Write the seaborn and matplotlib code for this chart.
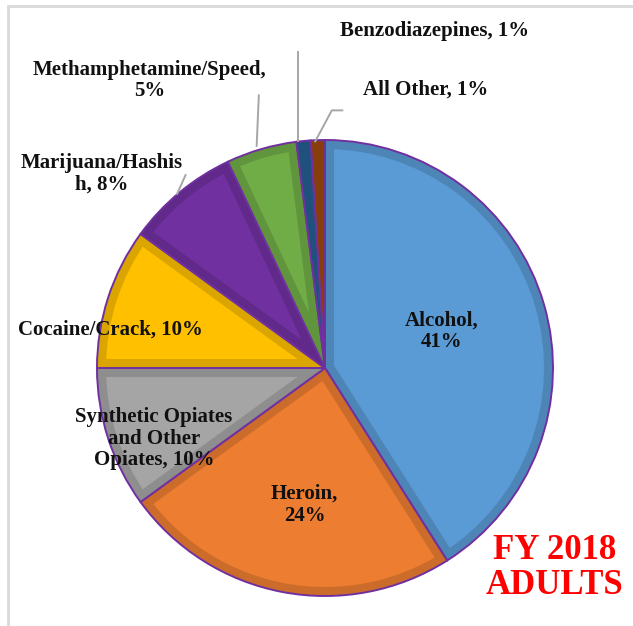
import matplotlib.pyplot as plt
import matplotlib.patches as mpatches
import seaborn as sns
import numpy as np

# FY 2018 adult admissions by primary substance (%)
substances = ['Alcohol', 'Heroin', 'Synthetic Opiates\nand Other\nOpiates', 'Cocaine/Crack',
              'Marijuana/Hashis\nh', 'Methamphetamine/Speed', 'Benzodiazepines', 'All Other']
shares = [41, 24, 10, 10, 8, 5, 1, 1]
label_fmt = ['{},\n{}%', '{},\n{}%', '{}, {}%', '{}, {}%', '{}, {}%', '{},\n{}%', '{}, {}%', '{}, {}%']
colors = ['#5B9BD5', '#ED7D31', '#A5A5A5', '#FFC000', '#7030A0', '#70AD47', '#255E91', '#9E480E']

# label spots in axes data units (pie radius = 1)
label_pos = [(0.51, 0.16), (-0.09, -0.60), (-0.75, -0.31), (-0.94, 0.17),
             (-0.98, 0.85), (-0.77, 1.26), (0.48, 1.48), (0.44, 1.22)]
# leader lines for the outside labels
leaders = {4: [(-0.65, 0.76), (-0.61, 0.85)],
           5: [(-0.30, 0.97), (-0.29, 1.20)],
           6: [(-0.12, 0.99), (-0.12, 1.39)],
           7: [(-0.045, 0.99), (0.03, 1.13), (0.08, 1.13)]}

sns.set_theme(style='white')
plt.rcParams['font.family'] = ['Liberation Serif', 'DejaVu Serif']

W, H = 633, 626
fig = plt.figure(figsize=(W / 100, H / 100), dpi=100)
cx, cy, r = 325, 368, 228
ax = fig.add_axes([(cx - r) / W, (H - cy - r) / H, 2 * r / W, 2 * r / H])

pal = sns.color_palette(colors)
wedges, _ = ax.pie(shares, colors=pal, startangle=90, counterclock=False, radius=1,
                   wedgeprops=dict(linewidth=0))

# darker inner bevel, clipped to each wedge
for w, c in zip(wedges, pal):
    w.set_clip_on(False)
    dark = tuple(np.array(c) * 0.86)
    band = mpatches.Wedge(w.center, w.r, w.theta1, w.theta2, facecolor='none',
                          edgecolor=dark, linewidth=13)
    ax.add_patch(band)
    band.set_clip_path(w)
    outline = mpatches.Wedge(w.center, w.r, w.theta1, w.theta2, facecolor='none',
                             edgecolor='#7030A0', linewidth=1.4, clip_on=False)
    ax.add_patch(outline)

for i, (name, v) in enumerate(zip(substances, shares)):
    x, y = label_pos[i]
    ax.text(x, y, label_fmt[i].format(name, v), ha='center', va='center',
            fontsize=15, fontweight='bold', color='#111111', linespacing=1.1)

for i, pts in leaders.items():
    xs, ys = zip(*pts)
    ax.plot(xs, ys, color='#A6A6A6', lw=1.4, solid_capstyle='butt', clip_on=False)

ax.set_xlim(-1, 1)
ax.set_ylim(-1, 1)
ax.axis('off')

fig.text(555 / W, 1 - 568 / H, 'FY 2018\nADULTS', ha='center', va='center',
         fontsize=25, fontweight='bold', color='#FF0000', linespacing=1.05)

# frame around the chart area (cut off at right and bottom)
fig.patches.append(mpatches.Rectangle((8 / W, -0.1), 1.2, 1 - 6 / H + 0.1,
                                      transform=fig.transFigure, fill=False,
                                      edgecolor='#D9D9D9', linewidth=2))

fig.savefig('out.png', dpi=100)
